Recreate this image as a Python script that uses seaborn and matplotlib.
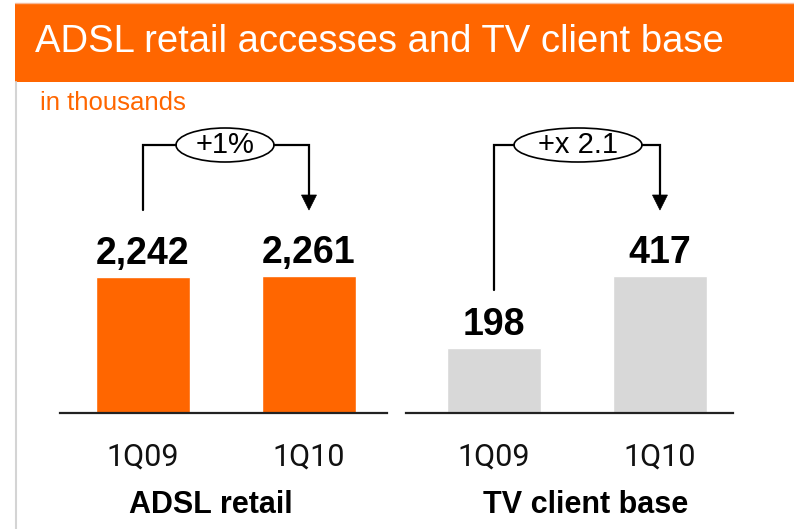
import matplotlib
matplotlib.use("Agg")
import matplotlib.pyplot as plt
import seaborn as sns
import pandas as pd
from matplotlib.patches import Rectangle, Ellipse, Polygon
from matplotlib.lines import Line2D

# ---------------- data ----------------
title = "ADSL retail accesses and TV client base"
unit_note = "in thousands"
quarters = ["1Q09", "1Q10"]
adsl_values = [2242, 2261]
tv_values = [198, 417]
adsl_labels = ["2,242", "2,261"]
tv_labels = ["198", "417"]
panel_titles = ["ADSL retail", "TV client base"]
growth_labels = ["+1%", "+x 2.1"]

# ---------------- style ----------------
ORANGE = "#FF6600"
GREY = "#D8D8D8"
sns.set_theme(style="white")
plt.rcParams['font.family'] = ['Liberation Sans', 'DejaVu Sans']

W, H = 794, 529
fig = plt.figure(figsize=(W / 100, H / 100), dpi=100)


def fx(px):
    return px / W


def fy(py):
    return 1 - py / H


# frame: title bar, thin top line, left grey rule
fig.add_artist(Rectangle((fx(15), fy(82)), fx(W) - fx(15), fy(4) - fy(82),
                         transform=fig.transFigure, facecolor=ORANGE,
                         edgecolor="none"))
fig.add_artist(Line2D([fx(15), 1], [fy(3), fy(3)], transform=fig.transFigure,
                      color="#F5B999", lw=1))
fig.add_artist(Line2D([fx(16), fx(16)], [fy(82), 0], transform=fig.transFigure,
                      color="#D4D4D4", lw=1.5))
fig.text(fx(35), fy(52), title, color="white", fontsize=27.5, va="baseline",
         ha="left")
fig.text(fx(40), fy(110), unit_note, color=ORANGE, fontsize=18.5,
         va="baseline", ha="left")

# ---------------- panels ----------------
panels = [
    dict(values=adsl_values, labels=adsl_labels, color=ORANGE,
         rect=(60, 387), xlim=(-0.5, 1.47), start_off=67,
         title=panel_titles[0], title_x=211, growth=growth_labels[0],
         ell=(225, 145, 98, 34)),
    dict(values=tv_values, labels=tv_labels, color=GREY,
         rect=(406, 733), xlim=(-0.53, 1.44), start_off=58,
         title=panel_titles[1], title_x=586, growth=growth_labels[1],
         ell=(578, 145, 128, 34)),
]

BASE_Y, TOP_Y = 413, 110
TIP_OFF = 66

for p in panels:
    left, right = p["rect"]
    ax = fig.add_axes([fx(left), fy(BASE_Y), fx(right) - fx(left),
                       fy(TOP_Y) - fy(BASE_Y)])
    df = pd.DataFrame({"quarter": quarters, "value": p["values"]})
    sns.barplot(data=df, x="quarter", y="value", ax=ax, color=p["color"],
                saturation=1, width=0.57)
    ax.set_xlim(*p["xlim"])
    vmax = max(p["values"])
    ax.set_ylim(0, vmax * (BASE_Y - TOP_Y) / 137)
    for s in ["top", "left", "right"]:
        ax.spines[s].set_visible(False)
    ax.spines["bottom"].set_color("#222222")
    ax.spines["bottom"].set_linewidth(1.6)
    ax.set_yticks([])
    ax.set_xlabel("")
    ax.set_ylabel("")
    ax.tick_params(axis="x", length=0, pad=21, labelcolor="#111111")
    for t in ax.get_xticklabels():
        t.set_fontfamily(["Roboto", "Liberation Sans"])
        t.set_fontweight("normal")
        t.set_fontsize(22)
    # value labels
    for i, (v, lab) in enumerate(zip(p["values"], p["labels"])):
        ax.annotate(lab, xy=(i, v), xytext=(0, 13), textcoords="offset pixels",
                    ha="center", va="baseline", fontsize=27, fontweight="bold",
                    color="black")
    # panel title
    fig.text(fx(p["title_x"]), fy(513), p["title"], fontsize=22,
             fontweight="bold", ha="center", va="baseline", color="black")

    # growth connector
    fig.canvas.draw()
    x0, y0 = ax.transData.transform((0, p["values"][0]))
    x1, y1 = ax.transData.transform((1, p["values"][1]))
    y0_px = H - y0 - p["start_off"]
    tip_px = H - y1 - TIP_OFF
    ecx, ecy, ew, eh = p["ell"]
    line_y = ecy
    lw = 1.6
    fig.add_artist(Line2D([x0 / W, x0 / W, fx(ecx - ew / 2)],
                          [fy(y0_px), fy(line_y), fy(line_y)],
                          transform=fig.transFigure, color="black", lw=lw,
                          solid_joinstyle="miter"))
    head_len, head_w = 15, 15
    fig.add_artist(Line2D([fx(ecx + ew / 2), x1 / W, x1 / W],
                          [fy(line_y), fy(line_y), fy(tip_px - head_len + 1)],
                          transform=fig.transFigure, color="black", lw=lw,
                          solid_joinstyle="miter"))
    fig.add_artist(Polygon([[x1 / W, fy(tip_px)],
                            [fx(x1 - head_w / 2), fy(tip_px - head_len)],
                            [fx(x1 + head_w / 2), fy(tip_px - head_len)]],
                           closed=True, transform=fig.transFigure,
                           facecolor="black", edgecolor="black", lw=0.5))
    fig.add_artist(Ellipse((fx(ecx), fy(ecy)), fx(ew), eh / H,
                           transform=fig.transFigure, facecolor="white",
                           edgecolor="black", lw=1.2))
    fig.text(fx(ecx), fy(ecy + 8), p["growth"], fontsize=21, ha="center",
             va="baseline", color="black")

fig.savefig("out.png", dpi=100)
